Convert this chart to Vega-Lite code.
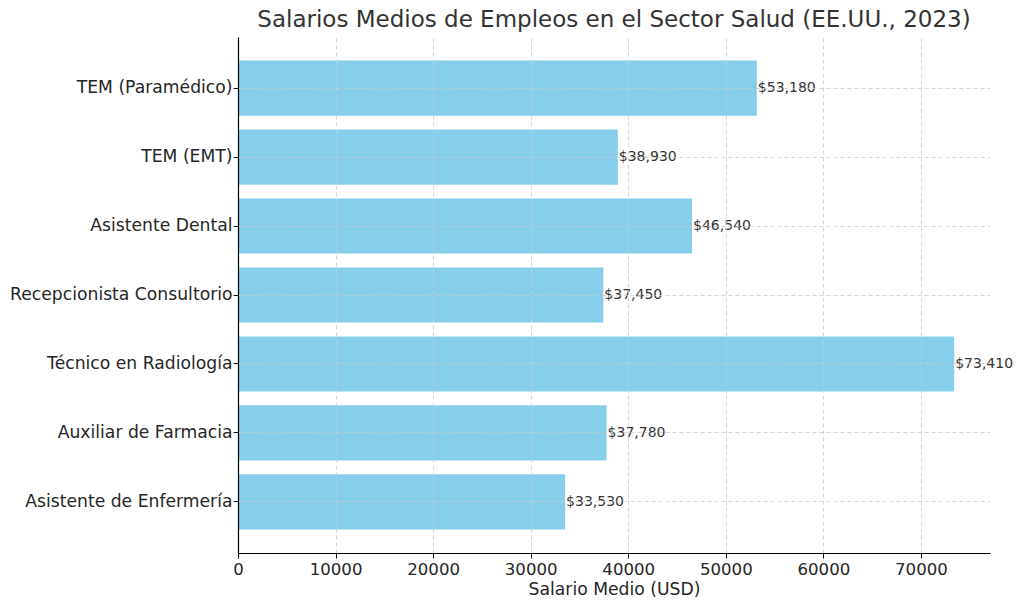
{
  "$schema": "https://vega.github.io/schema/vega-lite/v6.json",
  "autosize": "none",
  "width": 752,
  "height": 516,
  "padding": {"left": 238, "top": 37, "right": 34, "bottom": 56},
  "background": "white",
  "title": {
    "text": "Salarios Medios de Empleos en el Sector Salud (EE.UU., 2023)",
    "font": "DejaVu Sans",
    "fontSize": 23,
    "fontWeight": "normal",
    "color": "#333333",
    "anchor": "middle",
    "offset": 5
  },
  "config": {
    "view": {"stroke": null},
    "font": "DejaVu Sans"
  },
  "data": {
    "values": [
      {"puesto": "TEM (Paramédico)", "salario": 53180},
      {"puesto": "TEM (EMT)", "salario": 38930},
      {"puesto": "Asistente Dental", "salario": 46540},
      {"puesto": "Recepcionista Consultorio", "salario": 37450},
      {"puesto": "Técnico en Radiología", "salario": 73410},
      {"puesto": "Auxiliar de Farmacia", "salario": 37780},
      {"puesto": "Asistente de Enfermería", "salario": 33530}
    ]
  },
  "encoding": {
    "y": {
      "field": "puesto",
      "type": "nominal",
      "sort": null,
      "scale": {"paddingInner": 0.2, "paddingOuter": 0.34},
      "axis": {
        "title": null,
        "zindex": 1,
        "domainColor": "#000000",
        "domainWidth": 1.2,
        "tickColor": "#000000",
        "tickSize": 5,
        "tickWidth": 1,
        "labelFontSize": 17.2,
        "labelColor": "#262626",
        "labelFont": "DejaVu Sans",
        "labelPadding": 1,
        "labelLimit": 400,
        "grid": true,
        "gridColor": "#cccccc",
        "gridDash": [4, 3],
        "gridWidth": 0.8
      }
    },
    "x": {
      "field": "salario",
      "type": "quantitative",
      "scale": {"domain": [0, 77080], "nice": false, "zero": true},
      "axis": {
        "title": "Salario Medio (USD)",
        "values": [0, 10000, 20000, 30000, 40000, 50000, 60000, 70000],
        "format": "d",
        "zindex": 1,
        "domainColor": "#000000",
        "domainWidth": 1.2,
        "tickColor": "#000000",
        "tickSize": 5,
        "tickWidth": 1,
        "labelFontSize": 16.6,
        "labelColor": "#262626",
        "labelFont": "DejaVu Sans",
        "labelPadding": 3,
        "labelFlush": false,
        "titleFontSize": 17.2,
        "titleFontWeight": "normal",
        "titleColor": "#262626",
        "titleFont": "DejaVu Sans",
        "titlePadding": 3,
        "grid": true,
        "gridColor": "#cccccc",
        "gridDash": [4, 3],
        "gridWidth": 0.8
      }
    }
  },
  "layer": [
    {
      "mark": {"type": "bar", "color": "#87CEEB"}
    },
    {
      "mark": {"type": "text", "align": "left", "baseline": "middle", "dx": 1, "fontSize": 14, "color": "#333333", "font": "DejaVu Sans"},
      "encoding": {
        "text": {"field": "salario", "type": "quantitative", "format": "$,"}
      }
    }
  ]
}
